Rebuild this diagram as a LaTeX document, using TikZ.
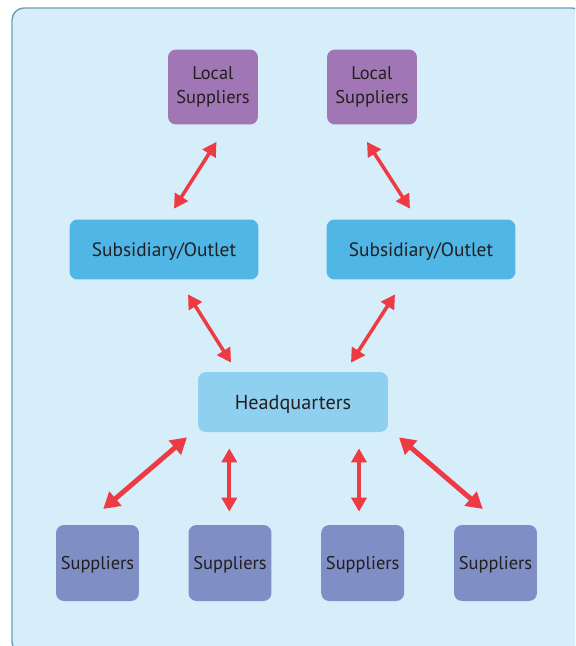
\documentclass[tikz,border=0pt]{standalone}
\usepackage{fontspec}
\setmainfont{PT Sans}
\usepackage{xcolor}
\usepackage{tikz}
\usetikzlibrary{arrows.meta,positioning,calc}

\definecolor{panelfill}{RGB}{214,237,250}
\definecolor{panelline}{RGB}{110,160,185}
\definecolor{localfill}{RGB}{160,119,180}
\definecolor{subfill}{RGB}{80,182,230}
\definecolor{hqfill}{RGB}{143,207,239}
\definecolor{supfill}{RGB}{127,143,197}
\definecolor{linkred}{RGB}{238,58,67}
\definecolor{textdark}{RGB}{35,31,32}

\tikzset{
    box/.style={rounded corners=0.16cm, inner sep=0pt, align=center, text=textdark},
    localbox/.style={box, fill=localfill, minimum width=1.8cm, minimum height=1.5cm,
        font=\fontsize{10.5}{13.5}\selectfont},
    subbox/.style={box, fill=subfill, minimum width=3.78cm, minimum height=1.2cm,
        text depth=0pt, font=\fontsize{11}{13}\selectfont},
    hqbox/.style={box, fill=hqfill, minimum width=3.8cm, minimum height=1.2cm,
        text depth=0pt, font=\fontsize{11.5}{13}\selectfont},
    supbox/.style={box, fill=supfill, minimum width=1.66cm, minimum height=1.52cm,
        text depth=0pt, font=\fontsize{10.5}{12}\selectfont},
    link/.style={draw=linkred, line width=#1,
        {Triangle[length=0.28cm,width=0.3cm]}-{Triangle[length=0.28cm,width=0.3cm]}},
    link/.default=2pt,
    biglink/.style={draw=linkred, line width=#1,
        {Triangle[length=0.32cm,width=0.36cm]}-{Triangle[length=0.32cm,width=0.36cm]}},
    biglink/.default=2.8pt
}

\begin{document}
\begin{tikzpicture}[x=0.02cm,y=-0.02cm]
        \useasboundingbox (0,0) rectangle (575,646);
        \clip (0,0) rectangle (575,646);

        % Panel
        \draw[fill=panelfill, draw=panelline, line width=0.85pt, rounded corners=0.24cm]
            (12,8) rectangle (584,654);

        % Local suppliers
        \node[localbox] (ls1) at (213,87) {Local\\Suppliers};
        \node[localbox] (ls2) at (372,87) {Local\\Suppliers};

        % Subsidiaries
        \node[subbox] (sub1) at (164,249.5) {Subsidiary/Outlet};
        \node[subbox] (sub2) at (421,249.5) {Subsidiary/Outlet};

        % Headquarters
        \node[hqbox] (hq) at (293,402) {Headquarters};

        % Suppliers
        \foreach \i/\x in {1/97.5,2/230,3/362.7,4/495.5} {
            \node[supbox] (sup\i) at (\x,563) {Suppliers};
        }

        % Links between local suppliers and subsidiaries
        \draw[link] ($(ls1.south)+(3.5,17)$) -- ($(sub1.north)+(10,-10.5)$);
        \draw[link] ($(ls2.south)+(-5,17)$) -- ($(sub2.north)+(-11,-10.5)$);

        % Links between subsidiaries and headquarters
        \draw[link] ($(sub1.south)+(24,14.5)$) -- ($(hq.north)+(-62,-9)$);
        \draw[link] ($(sub2.south)+(-26,14.5)$) -- ($(hq.north)+(58,-9)$);

        % Links between headquarters and suppliers
        \draw[biglink] ($(hq.south)+(-106,5)$) -- ($(sup1.north)+(5.8,-15.7)$);
        \draw[link=2.3pt] ($(hq.south)+(-63.7,16)$) -- ($(sup2.north)+(-0.7,-13)$);
        \draw[link=2.3pt] ($(hq.south)+(66,16)$) -- ($(sup3.north)+(-3.7,-13)$);
        \draw[biglink] ($(hq.south)+(106,5)$) -- ($(sup4.north)+(-12.8,-15.7)$);
\end{tikzpicture}
\end{document}
